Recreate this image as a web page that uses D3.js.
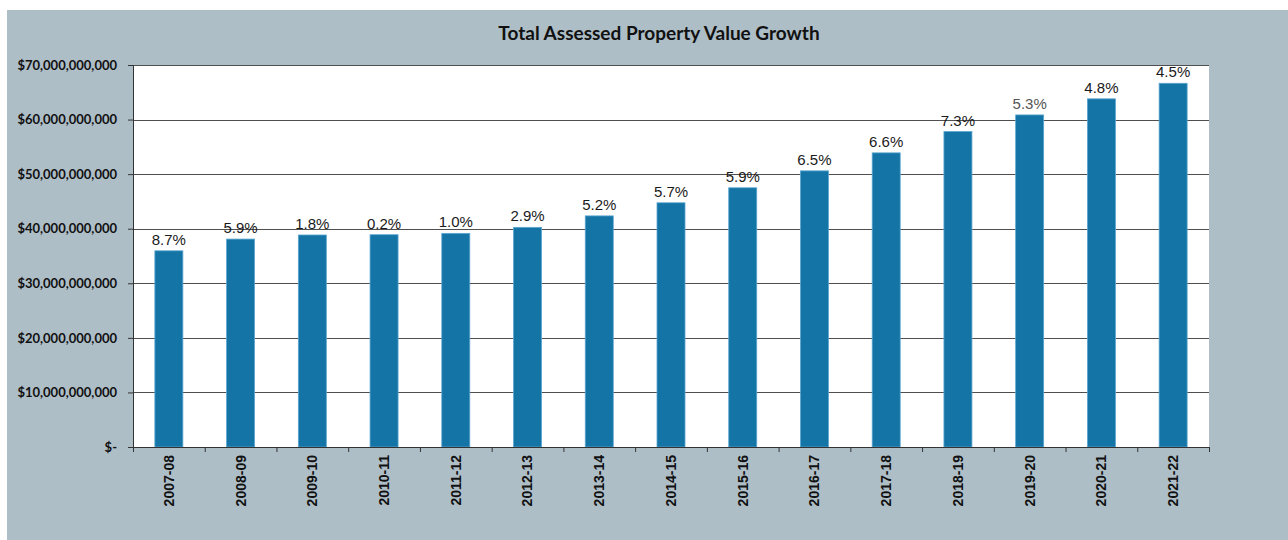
<!DOCTYPE html>
<html>
<head>
<meta charset="utf-8">
<script src="https://cdn.jsdelivr.net/npm/d3@7"></script>
<style>
  html, body { margin: 0; padding: 0; background: #ffffff; }
  svg { display: block; }
</style>
</head>
<body>
<svg id="chart" width="1288" height="540"></svg>
<script>
// data
const years = ["2007-08", "2008-09", "2009-10", "2010-11", "2011-12", "2012-13", "2013-14",
  "2014-15", "2015-16", "2016-17", "2017-18", "2018-19", "2019-20", "2020-21", "2021-22"];
const assessedValue = [35.95e9, 38.1e9, 38.85e9, 38.9e9, 39.15e9, 40.25e9, 42.35e9,
  44.75e9, 47.5e9, 50.6e9, 53.9e9, 57.8e9, 60.85e9, 63.8e9, 66.65e9];
const growthLabels = ["8.7%", "5.9%", "1.8%", "0.2%", "1.0%", "2.9%", "5.2%",
  "5.7%", "5.9%", "6.5%", "6.6%", "7.3%", "5.3%", "4.8%", "4.5%"];
const yTicks = [0, 10e9, 20e9, 30e9, 40e9, 50e9, 60e9, 70e9];
const title = "Total Assessed Property Value Growth";

const svg = d3.select("#chart");

// grey panel
svg.append("rect").attr("x", 7).attr("y", 10).attr("width", 1281).attr("height", 530)
  .attr("fill", "#aebec7");

const margin = { top: 65, left: 133 };
const width = 1076, height = 382;
const g = svg.append("g").attr("transform", `translate(${margin.left},${margin.top})`);

const x = d3.scaleBand().domain(years).range([0, width]).paddingInner(0).paddingOuter(0);
const y = d3.scaleLinear().domain([0, 70e9]).range([height, 0]);
const barW = 28;

// plot background
g.append("rect").attr("width", width).attr("height", height).attr("fill", "#ffffff");

// gridlines
g.append("g").selectAll("line").data(yTicks.filter(d => d > 0)).join("line")
  .attr("x1", 0).attr("x2", width)
  .attr("y1", d => Math.round(y(d)) + 0.5).attr("y2", d => Math.round(y(d)) + 0.5)
  .attr("stroke", "#4f4f4f").attr("stroke-width", 1.2);

// bars
g.append("g").selectAll("rect").data(years).join("rect")
  .attr("x", (d, i) => x(d) + x.bandwidth() / 2 - barW / 2)
  .attr("y", (d, i) => y(assessedValue[i]))
  .attr("width", barW)
  .attr("height", (d, i) => y(0) - y(assessedValue[i]))
  .attr("fill", "#1574a6")
  .attr("stroke", "#5aa6d0").attr("stroke-width", 0.8);

// growth labels
g.append("g").selectAll("text").data(years).join("text")
  .attr("x", d => x(d) + x.bandwidth() / 2)
  .attr("y", (d, i) => y(assessedValue[i]) - 6)
  .attr("text-anchor", "middle")
  .attr("font-family", "Liberation Sans, Arial, sans-serif")
  .attr("font-size", 15)
  .attr("fill", (d, i) => growthLabels[i] === "5.3%" ? "#555555" : "#1a1a1a")
  .text((d, i) => growthLabels[i]);

// y axis
const yAxis = d3.axisLeft(y).tickValues(yTicks).tickSize(5).tickPadding(11)
  .tickFormat(d => d === 0 ? "$-" : "$" + d3.format(",")(d));
const yg = g.append("g").call(yAxis);
yg.select(".domain").attr("stroke", "#333333");
yg.selectAll(".tick line").attr("stroke", "#333333");
yg.selectAll(".tick text")
  .attr("font-family", "Lato, sans-serif").attr("font-weight", 700)
  .attr("font-size", 13).attr("fill", "#111111");

// x axis: ticks at band boundaries
const xg = g.append("g").attr("transform", `translate(0,${height})`);
xg.append("line").attr("x1", 0).attr("x2", width).attr("y1", 0.5).attr("y2", 0.5)
  .attr("stroke", "#333333");
xg.selectAll("line.tk").data(years.concat(["end"])).join("line").attr("class", "tk")
  .attr("x1", (d, i) => i * x.bandwidth() + 0.5).attr("x2", (d, i) => i * x.bandwidth() + 0.5)
  .attr("y1", 0).attr("y2", 5).attr("stroke", "#333333");
xg.selectAll("text").data(years).join("text")
  .attr("transform", d => `translate(${x(d) + x.bandwidth() / 2},8) rotate(-90)`)
  .attr("text-anchor", "end")
  .attr("dy", "0.35em")
  .attr("font-family", "Liberation Sans, Arial, sans-serif")
  .attr("font-weight", 700).attr("font-size", 14).attr("fill", "#111111")
  .text(d => d);

// title
svg.append("text").attr("x", 659).attr("y", 40)
  .attr("text-anchor", "middle")
  .attr("font-family", "Lato, sans-serif").attr("font-weight", 700)
  .attr("font-size", 19).attr("fill", "#111111")
  .text(title);
</script>
</body>
</html>
